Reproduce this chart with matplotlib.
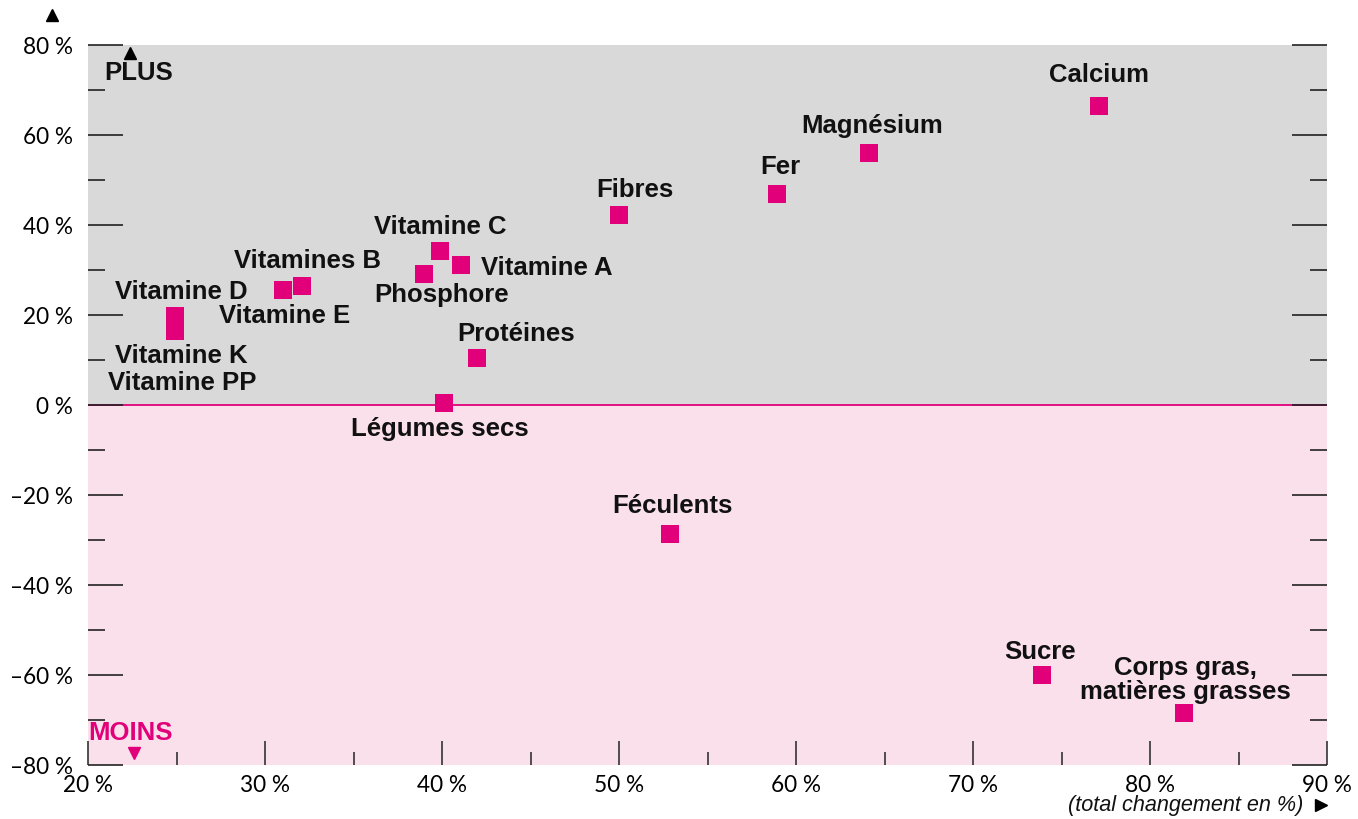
import numpy as np
import matplotlib.pyplot as plt
from matplotlib.ticker import MultipleLocator

# data (x: total change %, y: direction %)
x_vals = [77.1, 64.1, 58.9, 50.0, 39.9, 41.1, 39.0, 32.1, 31.0, 24.9, 24.9, 42.0, 40.1, 52.9, 73.9, 81.9]
y_vals = [66.4, 55.9, 46.8, 42.3, 34.3, 31.2, 29.2, 26.5, 25.6, 19.8, 16.5, 10.5, 0.4, -28.7, -59.9, -68.4]

labels = ["Calcium", "Magnésium", "Fer", "Fibres", "Vitamine C", "Vitamine A",
          "Vitamines B", "Phosphore", "Vitamine D", "Vitamine E", "Vitamine K",
          "Vitamine PP", "Protéines", "Légumes secs", "Féculents", "Sucre",
          "Corps gras,\nmatières grasses"]
label_x = [77.1, 64.3, 59.1, 50.9, 39.9, 42.2, 32.4, 40.0, 25.3, 31.1, 25.3, 25.3, 44.2, 39.9, 53.0, 73.8, 82.0]
label_y = [73.3, 61.9, 52.8, 47.7, 39.6, 30.5, 32.1, 24.5, 25.2, 19.8, 10.9, 4.9, 15.8, -5.3, -22.5, -54.8, -61.0]
label_ha = ["center", "center", "center", "center", "center", "left",
            "center", "center", "center", "center", "center",
            "center", "center", "center", "center", "center", "center"]

x_ticks = [20, 30, 40, 50, 60, 70, 80, 90]
y_ticks = [-80, -60, -40, -20, 0, 20, 40, 60, 80]

MAG = "#e2007a"
GREY = "#d9d9d9"
PINK = "#fae0ea"
LBL = 18.5

plt.rcParams["font.family"] = ["Lato", "DejaVu Sans"]

fig = plt.figure(figsize=(13.58, 8.19), dpi=100)
ax = fig.add_axes([88 / 1358, 1 - 765 / 819, 1239 / 1358, 720 / 819])
ax.set_xlim(20, 90)
ax.set_ylim(-80, 80)

ax.axhspan(0, 80, color=GREY, lw=0, zorder=0)
ax.axhspan(-80, 0, color=PINK, lw=0, zorder=0)
ax.axhline(0, color=MAG, lw=1.3, zorder=1)

for s in ax.spines.values():
    s.set_visible(False)

ax.scatter(x_vals, y_vals, marker="s", s=13 ** 2, color=MAG, linewidths=0, zorder=3)

for t, lx, ly, ha in zip(labels, label_x, label_y, label_ha):
    ax.text(lx, ly, t, ha=ha, va="center", fontsize=LBL, fontweight="bold",
            family="Liberation Sans", color="#111111", linespacing=1.0, zorder=4)

# PLUS / MOINS markers
ax.text(20.9, 73.7, "PLUS", ha="left", va="center", fontsize=LBL, fontweight="bold",
        family="Liberation Sans", color="#111111")
ax.plot([22.4], [78.2], marker="^", ms=8, color="black", clip_on=False)
ax.text(20.0, -73.0, "MOINS", ha="left", va="center", fontsize=LBL, fontweight="bold",
        family="Liberation Sans", color=MAG)
ax.plot([22.6], [-77.3], marker="v", ms=8, color=MAG, clip_on=False)

# ticks
ax.set_xticks(x_ticks)
ax.set_xticklabels([f"{v} %" for v in x_ticks])
ax.xaxis.set_minor_locator(MultipleLocator(5))
ax.set_yticks(y_ticks)
ax.set_yticklabels([(f"–{abs(v)} %" if v < 0 else f"{v} %") for v in y_ticks])
ax.yaxis.set_minor_locator(MultipleLocator(10))

ax.tick_params(axis="y", which="major", direction="in", length=25, width=1.2,
               color="#222222", left=True, right=True, labelsize=16.3, pad=11)
ax.tick_params(axis="y", which="minor", direction="in", length=12.5, width=1.2,
               color="#222222", left=True, right=True)
ax.tick_params(axis="x", which="major", direction="in", length=17, width=1.2,
               color="#333333", bottom=True, top=False, labelsize=16.3, pad=7)
ax.tick_params(axis="x", which="minor", direction="in", length=9.5, width=1.2,
               color="#333333", bottom=True, top=False)

# axis arrows and label
ax.plot([-0.029], [1.042], marker="^", ms=8, color="black", transform=ax.transAxes, clip_on=False)
ax.text(0.9806, -0.0556, "(total changement en %)", transform=ax.transAxes, ha="right",
        va="center", fontsize=15.6, style="italic", family="Liberation Sans", color="#111111")
ax.plot([0.995], [-0.0556], marker=">", ms=8, color="black", transform=ax.transAxes, clip_on=False)

fig.savefig("out.png", dpi=100)
